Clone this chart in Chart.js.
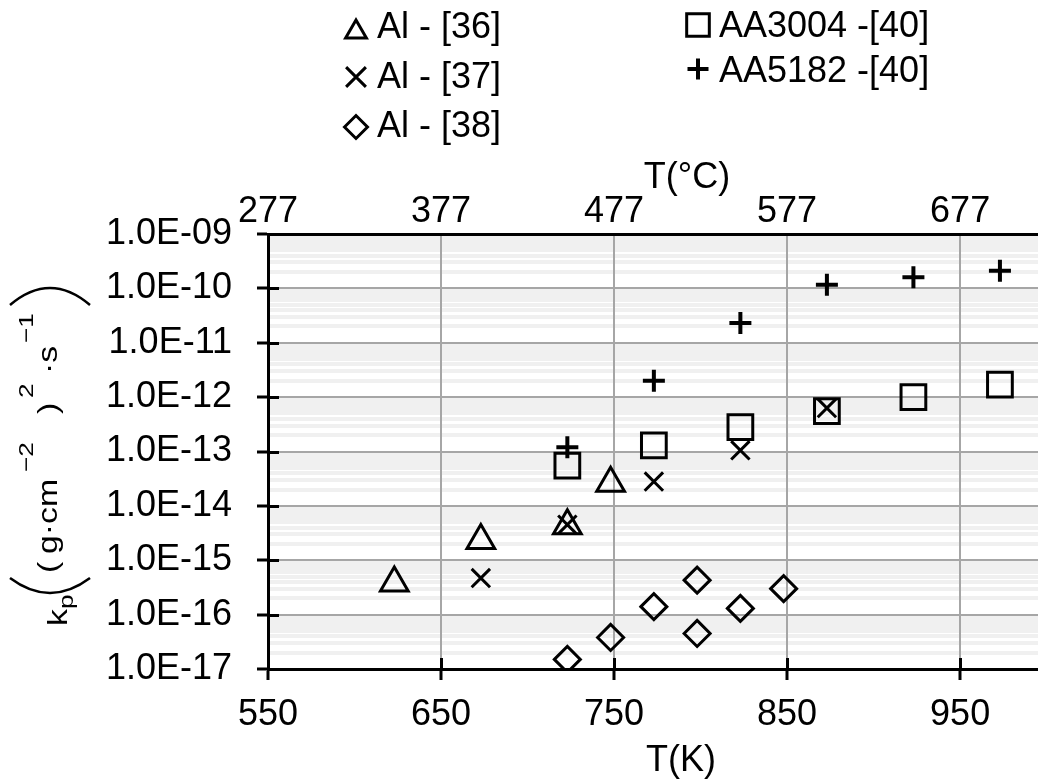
<!DOCTYPE html>
<html lang="en">
<head>
  <meta charset="UTF-8">
  <title>kp vs T</title>
  <script src="https://cdn.jsdelivr.net/npm/chart.js"></script>
  <style>
    html, body {
      margin: 0;
      padding: 0;
      background: #fff;
      overflow: hidden;
    }
    canvas {
      display: block;
    }
  </style>
</head>
<body>
  <canvas id="grafico" width="1038" height="780"></canvas>

  <script>
    // temperatures in K and parabolic rate constants kp
    const tempAl36 = [623, 673, 723, 748];
    const kpAl36 = [3.8e-16, 2.3e-15, 4.3e-15, 2.6e-14];

    const tempAl37 = [673, 723, 773, 823, 873];
    const kpAl37 = [4.7e-16, 4.5e-15, 2.8e-14, 1.05e-13, 6.3e-13];

    const tempAl38 = [723, 748, 773, 798, 798, 823, 848];
    const kpAl38 = [1.5e-17, 3.8e-17, 1.4e-16, 4.3e-16, 4.5e-17, 1.3e-16, 3.0e-16];

    const tempAA3004 = [723, 773, 823, 873, 923, 973];
    const kpAA3004 = [5.5e-14, 1.3e-13, 2.8e-13, 5.5e-13, 1.0e-12, 1.7e-12];

    const tempAA5182 = [723, 773, 823, 873, 923, 973];
    const kpAA5182 = [1.2e-13, 2.0e-12, 2.3e-11, 1.17e-10, 1.6e-10, 2.1e-10];

    const kelvinTicks = [550, 650, 750, 850, 950];
    const celsiusTicks = [277, 377, 477, 577, 677];
    const yExponents = [-17, -16, -15, -14, -13, -12, -11, -10, -9];
    const yTickLabels = ['1.0E-17', '1.0E-16', '1.0E-15', '1.0E-14', '1.0E-13',
                         '1.0E-12', '1.0E-11', '1.0E-10', '1.0E-09'];

    const seriesNames = ['Al - [36]', 'Al - [37]', 'Al - [38]', 'AA3004 -[40]', 'AA5182 -[40]'];

    const FONT = 'Liberation Sans, Arial, sans-serif';
    Chart.defaults.font.family = FONT;
    Chart.defaults.font.size = 36;
    Chart.defaults.color = '#000';

    const pontos = (xs, ys) => xs.map((x, i) => ({ x: x, y: ys[i] }));

    const serie = (nome, xs, ys, estilo, raio, espessura) => ({
      label: nome,
      data: pontos(xs, ys),
      pointStyle: estilo,
      pointRadius: raio,
      pointHoverRadius: raio,
      pointBorderWidth: espessura,
      pointHoverBorderWidth: espessura,
      pointBorderColor: '#000',
      pointBackgroundColor: 'rgba(0,0,0,0)',
      showLine: false
    });

    const dados = {
      datasets: [
        serie(seriesNames[0], tempAl36, kpAl36, 'triangle', 16, 3),
        serie(seriesNames[1], tempAl37, kpAl37, 'crossRot', 13, 3),
        serie(seriesNames[2], tempAl38, kpAl38, 'rectRot', 13, 3),
        serie(seriesNames[3], tempAA3004, kpAA3004, 'rect', 17.5, 3),
        serie(seriesNames[4], tempAA5182, kpAA5182, 'cross', 11, 4)
      ]
    };

    // black tick marks that cross into the plot area
    const ticksInternos = {
      id: 'ticksInternos',
      beforeDatasetsDraw(chart) {
        const { ctx, chartArea, scales } = chart;
        ctx.save();
        ctx.strokeStyle = '#000';
        ctx.lineWidth = 3;
        ctx.beginPath();
        kelvinTicks.forEach(v => {
          const px = Math.round(scales.x.getPixelForValue(v)) + 0.5;
          ctx.moveTo(px, chartArea.bottom);
          ctx.lineTo(px, chartArea.bottom - 11);
        });
        yExponents.forEach(e => {
          const py = Math.round(scales.y.getPixelForValue(Math.pow(10, e))) + 0.5;
          ctx.moveTo(chartArea.left, py);
          ctx.lineTo(chartArea.left + 11, py);
        });
        ctx.stroke();
        ctx.restore();
      }
    };

    function textoGirado(ctx, texto, tamanho, xBase, yInicio) {
      ctx.save();
      ctx.translate(xBase, yInicio);
      ctx.rotate(-Math.PI / 2);
      ctx.scale(1.25, 1);
      ctx.font = tamanho + 'px ' + FONT;
      ctx.textAlign = 'left';
      ctx.textBaseline = 'alphabetic';
      ctx.fillText(texto, 0, 0);
      ctx.restore();
    }

    // legend, axis titles and the y title with sub/superscripts
    const textos = {
      id: 'textos',
      afterDraw(chart) {
        const { ctx } = chart;
        ctx.save();
        ctx.strokeStyle = '#000';
        ctx.lineJoin = 'miter';

        // legend in two columns
        const legenda = [
          { ds: 0, mx: 356, my: 32, tx: 377, ty: 38, r: 12 },
          { ds: 1, mx: 356, my: 77, tx: 377, ty: 88, r: 14 },
          { ds: 2, mx: 356, my: 127, tx: 377, ty: 137, r: 11.5 },
          { ds: 3, mx: 698, my: 25, tx: 719, ty: 37, r: 16 },
          { ds: 4, mx: 698, my: 69, tx: 719, ty: 82, r: 10.5 }
        ];
        ctx.font = '36px ' + FONT;
        ctx.textAlign = 'left';
        ctx.textBaseline = 'alphabetic';
        legenda.forEach(item => {
          const ds = chart.data.datasets[item.ds];
          ctx.fillStyle = 'rgba(0,0,0,0)';
          ctx.strokeStyle = '#000';
          ctx.lineWidth = ds.pointStyle === 'cross' ? 4 : 3;
          Chart.helpers.drawPoint(ctx, {
            pointStyle: ds.pointStyle,
            radius: item.r,
            borderWidth: 3,
            rotation: 0
          }, item.mx, item.my);
          ctx.fillStyle = '#000';
          ctx.fillText(ds.label, item.tx, item.ty);
        });

        // axis titles
        ctx.fillStyle = '#000';
        ctx.textAlign = 'center';
        ctx.font = '36px ' + FONT;
        ctx.fillText('T(\u00B0C)', 687, 188);
        ctx.fillText('T(K)', 681, 771);

        // y title: kp ((g·cm−2)2·s−1)
        textoGirado(ctx, 'k', 27, 67, 626);
        textoGirado(ctx, 'p', 21, 73, 609);
        textoGirado(ctx, '(', 27, 57, 573);
        textoGirado(ctx, 'g\u00B7cm', 27, 57, 554);
        textoGirado(ctx, '\u22122', 21, 33, 472);
        textoGirado(ctx, ')', 27, 57, 414);
        textoGirado(ctx, '2', 21, 33, 398);
        textoGirado(ctx, '\u00B7s', 27, 57, 374);
        textoGirado(ctx, '\u22121', 21, 33, 343);

        ctx.lineWidth = 2.5;
        ctx.beginPath();
        ctx.moveTo(10, 578);
        ctx.quadraticCurveTo(50, 608, 90, 578);
        ctx.moveTo(10, 305);
        ctx.quadraticCurveTo(50, 271, 90, 305);
        ctx.stroke();

        ctx.restore();
      }
    };

    const config = {
      type: 'scatter',
      data: dados,
      options: {
        responsive: false,
        animation: false,
        devicePixelRatio: 1,
        layout: { padding: 0, autoPadding: false },
        scales: {
          x: {
            type: 'linear',
            position: 'bottom',
            min: 550,
            max: 995,
            afterBuildTicks: s => { s.ticks = kelvinTicks.map(v => ({ value: v })); },
            afterFit: s => { s.height = 111; s.paddingLeft = 0; s.paddingRight = 0; },
            ticks: { autoSkip: false, maxRotation: 0, padding: 13 },
            grid: {
              z: -1,
              color: '#a6a6a6',
              lineWidth: 2,
              tickColor: '#000',
              tickWidth: 3,
              tickLength: 11
            },
            border: { color: '#000', width: 3 }
          },
          x2: {
            type: 'linear',
            axis: 'x',
            position: 'top',
            min: 550 - 273,
            max: 995 - 273,
            afterBuildTicks: s => { s.ticks = celsiusTicks.map(v => ({ value: v })); },
            afterFit: s => { s.height = 234; s.paddingLeft = 0; s.paddingRight = 0; },
            ticks: { autoSkip: false, maxRotation: 0, padding: -8 },
            grid: { display: false },
            border: { color: '#000', width: 3 }
          },
          y: {
            type: 'logarithmic',
            position: 'left',
            min: 1e-17,
            max: 1e-9,
            afterBuildTicks: s => {
              const t = [];
              yExponents.forEach(e => {
                for (let m = 1; m <= 9; m++) {
                  if (e === -9 && m > 1) break;
                  t.push({ value: m * Math.pow(10, e), major: m === 1 });
                }
              });
              s.ticks = t;
            },
            afterFit: s => { s.width = 268; s.paddingTop = 0; s.paddingBottom = 0; },
            ticks: {
              autoSkip: false,
              padding: 25,
              callback: (valor, i, ticks) => {
                if (!ticks[i].major) return '';
                const e = Math.round(Math.log10(valor));
                return yTickLabels[yExponents.indexOf(e)];
              }
            },
            grid: {
              z: -2,
              color: c => (c.tick && c.tick.major) ? '#a6a6a6' : '#f0f0f0',
              lineWidth: c => (c.tick && c.tick.major) ? 2 : 4,
              tickColor: c => (c.tick && c.tick.major) ? '#000' : 'rgba(0,0,0,0)',
              tickWidth: 3,
              tickLength: 11
            },
            border: { color: '#000', width: 3 }
          }
        },
        plugins: {
          legend: { display: false },
          tooltip: { enabled: false }
        }
      },
      plugins: [ticksInternos, textos]
    };

    const grafico = new Chart(document.getElementById('grafico').getContext('2d'), config);
  </script>
</body>
</html>
